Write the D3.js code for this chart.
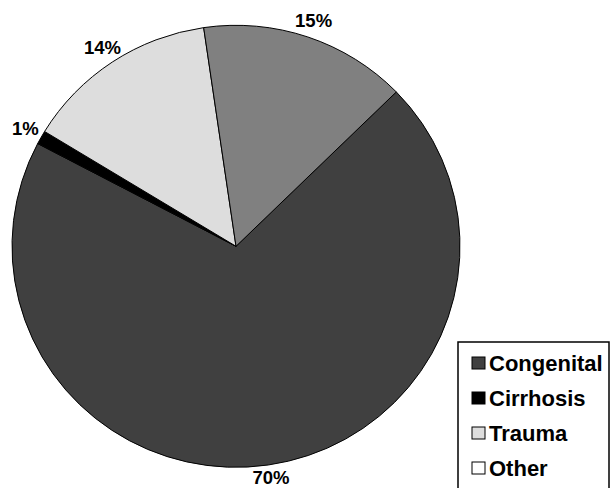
<!DOCTYPE html>
<html>
<head>
<meta charset="utf-8">
<script src="https://cdn.jsdelivr.net/npm/d3@7"></script>
<style>
  html, body { margin: 0; padding: 0; background: #fff; }
  svg { display: block; }
  text { font-family: "Liberation Sans", Arial, sans-serif; font-weight: bold; fill: #000; }
</style>
</head>
<body>
<svg id="chart" width="616" height="488"></svg>
<script>
// Data
const categories = ["Congenital", "Cirrhosis", "Trauma", "Other"];
const values = [70, 1, 14, 15];
const labels = ["70%", "1%", "14%", "15%"];
const sliceColors = ["#404040", "#000000", "#dddddd", "#808080"];
const legendColors = ["#404040", "#000000", "#dddddd", "#ffffff"];

const svg = d3.select("#chart");
const W = 616, H = 488;
const cx = 236, cy = 246.3, rx = 224, ry = 221;
const startDeg = 45.7;

const pie = d3.pie().sort(null).value(d => d)
  .startAngle(startDeg * Math.PI / 180)
  .endAngle((startDeg + 360) * Math.PI / 180);
const arcs = pie(values);
const arc = d3.arc().innerRadius(0).outerRadius(rx);

const g = svg.append("g").attr("transform", `translate(${cx},${cy}) scale(1,${ry / rx})`);
g.selectAll("path").data(arcs).enter().append("path")
  .attr("d", arc)
  .attr("fill", (d, i) => sliceColors[i])
  .attr("stroke", "#000")
  .attr("stroke-width", 1)
  .attr("stroke-linejoin", "round");

// Labels
const labelArc = d3.arc().innerRadius(242).outerRadius(242);
svg.append("g")
  .selectAll("text").data(arcs).enter().append("text")
  .attr("transform", d => {
    const [x, y] = labelArc.centroid(d);
    const yy = Math.min(cy + y * ry / rx, H - 10.5);
    return `translate(${cx + x},${yy})`;
  })
  .attr("text-anchor", "middle")
  .attr("dy", "0.36em")
  .attr("font-size", 18.5)
  .text((d, i) => labels[i]);

// Legend
const lg = svg.append("g");
const lx = 458, ly = 342, lw = 151, lh = 160;
lg.append("rect").attr("x", lx).attr("y", ly).attr("width", lw).attr("height", lh)
  .attr("fill", "#fff").attr("stroke", "#000").attr("stroke-width", 1.5);
const rowY = d3.scalePoint().domain(categories).range([363, 468]);
const items = lg.selectAll("g.item").data(categories).enter().append("g")
  .attr("transform", d => `translate(${lx},${rowY(d)})`);
items.append("rect").attr("x", 14).attr("y", -6).attr("width", 13).attr("height", 12)
  .attr("fill", (d, i) => legendColors[i]).attr("stroke", "#000").attr("stroke-width", 1);
items.append("text").attr("x", 31).attr("dy", "0.36em").attr("font-size", 22)
  .text(d => d);
</script>
</body>
</html>
